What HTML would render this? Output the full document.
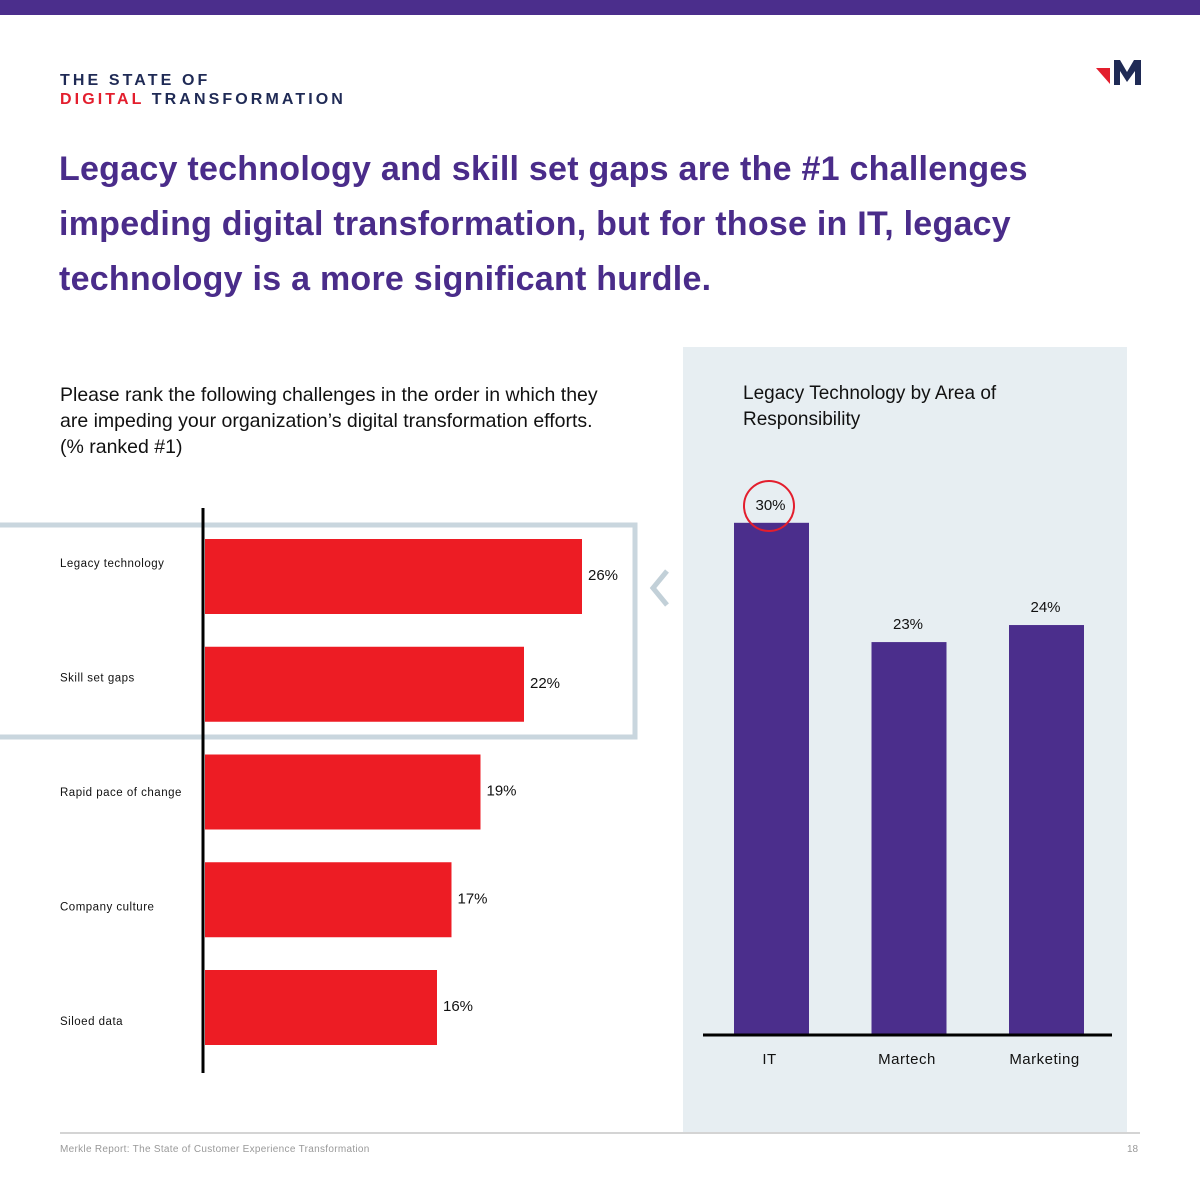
<!DOCTYPE html>
<html><head><meta charset="utf-8"><style>
body{margin:0;width:1200px;height:1200px;position:relative;background:#fff;font-family:"Liberation Sans",sans-serif;overflow:hidden}
.abs{position:absolute}
</style></head><body>
<div class="abs" style="left:0;top:0;width:1200px;height:15px;background:#4b2e8c"></div>
<div class="abs" style="left:60px;top:71px;font-weight:bold;font-size:16px;letter-spacing:3.1px;line-height:19px;color:#1f2a55">THE STATE OF<br><span style="color:#e31e2d">DIGITAL</span> TRANSFORMATION</div>
<svg class="abs" style="left:1094px;top:60px" width="50" height="26"><polygon points="2,8 16,8 16,24" fill="#e31e2d"/><polygon points="20,0 26,0 33,12 40,0 47,0 47,25 41,25 41,11 33,22 26,11 26,25 20,25" fill="#1f2a55"/></svg>
<div class="abs" style="left:59px;top:142px;width:1100px;font-weight:bold;font-size:34px;letter-spacing:0.25px;line-height:55px;color:#4a2c8a">Legacy technology and skill set gaps are the #1 challenges<br>impeding digital transformation, but for those in IT, legacy<br>technology is a more significant hurdle.</div>
<div class="abs" style="left:60px;top:382px;width:620px;font-size:19.5px;line-height:26px;color:#111">Please rank the following challenges in the order in which they<br>are impeding your organization’s digital transformation efforts.<br>(% ranked #1)</div>
<div class="abs" style="left:683px;top:347px;width:444px;height:785px;background:#e7eef2"></div>
<div class="abs" style="left:743px;top:381px;width:340px;font-size:19px;line-height:26px;color:#111">Legacy Technology by Area of Responsibility</div>
<svg class="abs" id="chart" style="left:0;top:0" width="1200" height="1200"></svg>
<div class="abs" style="left:60px;top:1132px;width:1080px;height:2px;background:#d4d4d4"></div>
<div class="abs" style="left:60px;top:1144px;font-size:10px;letter-spacing:0.3px;color:#999">Merkle Report: The State of Customer Experience Transformation</div>
<div class="abs" style="left:1127px;top:1144px;font-size:10px;color:#999">18</div>
<script>
const categories=["Legacy technology","Skill set gaps","Rapid pace of change","Company culture","Siloed data"];
const values=[26,22,19,17,16];
const areas=["IT","Martech","Marketing"];
const areaValues=[30,23,24];
const NS="http://www.w3.org/2000/svg";
const svg=document.getElementById('chart');
function mk(t,a,p){const e=document.createElementNS(NS,t);for(const k in a)e.setAttribute(k,a[k]);(p||svg).appendChild(e);return e;}
const x=v=>205+v*14.5;
const yRow=i=>539+i*107.75;
let hb=mk('rect',{x:-5,y:525,width:640,height:212,fill:'none',stroke:'#c9d6de','stroke-width':5});


let ch=mk('polyline',{points:'667,571 653,588 667,605',fill:'none',stroke:'#c2d0d8','stroke-width':5});


categories.forEach((c,i)=>{
  const y=yRow(i);
  const r=mk('rect',{x:205,y:y,width:x(values[i])-205,height:75,fill:'#ed1c24'});
  
  
  const l=mk('text',{x:60,y:567+i*114.5,'font-size':11.5,fill:'#111','letter-spacing':'0.5'});
  l.textContent=c;
  
  
  const v=mk('text',{x:x(values[i])+6,y:y+41,'font-size':15,fill:'#111'});
  v.textContent=values[i]+'%';
  
  
});
let ax=mk('line',{x1:203,y1:508,x2:203,y2:1073,stroke:'#000','stroke-width':3});


const base=1034, ys=v=>base-v*17.04;
areas.forEach((a,i)=>{
  const cx=771.5+i*137.5;
  const r=mk('rect',{x:cx-37.5,y:ys(areaValues[i]),width:75,height:base-ys(areaValues[i]),fill:'#4b2e8c'});
  
  
  const v=mk('text',{x:cx-1,y:ys(areaValues[i])-13,'font-size':15,fill:'#111','text-anchor':'middle'});
  v.textContent=areaValues[i]+'%';
  
  
  const l=mk('text',{x:cx-2,y:1064,'font-size':15,fill:'#111','text-anchor':'middle','letter-spacing':'0.5'});
  l.textContent=a;
  
  
});
let bl=mk('line',{x1:703,y1:base+1,x2:1112,y2:base+1,stroke:'#000','stroke-width':3});


let cc=mk('circle',{cx:769,cy:506,r:25,fill:'none',stroke:'#e31e2d','stroke-width':2});


</script>
</body></html>
